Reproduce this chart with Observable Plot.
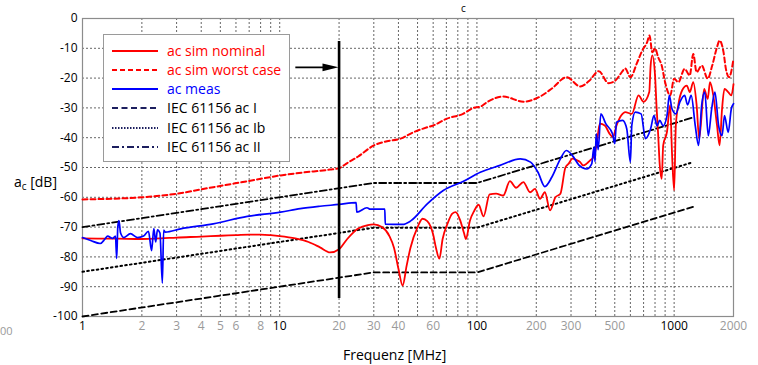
<!DOCTYPE html>
<html>
<head>
<meta charset="utf-8">
<script src="https://cdn.jsdelivr.net/npm/d3@7"></script>
<script src="https://cdn.jsdelivr.net/npm/@observablehq/plot@0.6"></script>
<style>
  html, body { margin: 0; padding: 0; background: #fff; }
  #wrap { position: relative; width: 758px; height: 365px; font-family: "Open Sans", sans-serif; overflow: hidden; }
  #wrap svg { display: block; }
  .abs { position: absolute; white-space: nowrap; }
  #legend { position: absolute; left: 103px; top: 34px; width: 185px; height: 126px; border: 1.5px solid #9a9a9a; background: #fff; }
  .row { position: absolute; left: 0; height: 20px; line-height: 20px; font-size: 14px; }
  .row svg { position: absolute; left: 8px; top: 0; }
  .row span { position: absolute; left: 63px; top: 0; }
</style>
</head>
<body>
<div id="wrap"></div>
<script>
// ---------- data ----------
const nominalF = [1,1.5,2,2.5,3,4,5,6,7,8,9,10,12,14,16,18,20,22,25,28,30,33,36,38,40,42,44,46,50,53,56,60,62,64.5,67,71,75,78,82,86,88,92,97,102,108,116,125,136,147,158,172,186,197,209,221,235,250,265,281,292,305,322,334,346,360,375,390,405,420,445,471,489,510,540,565,610,660,700,748,760,775,800,815,830,845,865,880,920,955,975,1000,1020,1050,1100,1160,1200,1250,1300,1340,1420,1480,1520,1580,1650,1700,1750,1800,1880,1950,2000];
const nominalDb = [-73.8,-73.9,-74,-73.8,-73.5,-73.2,-72.9,-72.7,-72.5,-72.5,-72.7,-73,-73.8,-75,-76.8,-78.5,-77.4,-74,-70.5,-69.3,-69.1,-70,-73,-77,-84,-89.6,-83,-77,-70,-67.2,-68,-72.5,-77,-80.6,-74,-68.8,-65.5,-65,-67.5,-72,-74,-68,-64.5,-62.5,-66.4,-59,-58.8,-59.4,-54.6,-56.8,-54.9,-58.3,-57.2,-60.5,-58.3,-64.4,-60,-58.8,-50,-48.7,-47,-47.6,-48.2,-49.3,-48.7,-47.6,-46.5,-42,-35.3,-35.9,-38.7,-39.8,-36,-32.5,-31.4,-32,-25.8,-28,-24.7,-15.8,-12.4,-19,-30,-39,-49,-53.8,-42.6,-38,-29,-44.9,-57.7,-35.9,-29,-24,-22.5,-24.7,-21.4,-29,-40.3,-23.6,-27,-21.4,-25.8,-35.9,-42.6,-30.3,-23.6,-24.7,-25.8,-22];

const worstF = [1,2,3,4.6,7,10,13,18,20,22,25,30,35,41,47.5,56,60,70.5,85,96,104,113,136,172,209,240,285,334,370,415,465,500,535,565,600,650,690,730,750,775,800,830,865,900,955,1000,1050,1130,1200,1250,1300,1380,1480,1560,1650,1700,1780,1830,1900,2000];
const worstDb = [-60.7,-60,-58.8,-56.6,-54.5,-52.7,-51.7,-50.7,-50.2,-48.5,-46.3,-42.6,-41.2,-40.3,-38.2,-36.5,-35.9,-33.6,-32,-30,-29.6,-28,-26.2,-27.9,-26.2,-23.5,-19.7,-22.8,-21,-17.7,-21.7,-21,-18.6,-16.8,-19.7,-14.7,-10.7,-7.9,-5.7,-11.3,-10,-13,-15.8,-21.4,-25.8,-20.2,-21.4,-16.9,-19.1,-11.9,-18,-15.8,-20.2,-15.8,-9.6,-7.4,-11.3,-16.9,-19.7,-13.5];

const measF = [1,1.1,1.23,1.3,1.34,1.42,1.47,1.49,1.51,1.53,1.56,1.62,1.75,1.9,2.04,2.16,2.24,2.3,2.35,2.4,2.47,2.54,2.58,2.63,3.14,4.6,6.85,10.1,12.7,16,20,24.4,24.6,27.7,28.8,34.1,34.3,42,46,56,67.5,85,104,131,166,187,204,221,240,265,284,305,330,360,382,392,397,403,412,425,450,487,500,510,548,575,600,610,635,680,715,760,790,820,845,880,920,945,975,1020,1070,1130,1170,1220,1280,1330,1380,1430,1490,1550,1610,1680,1750,1800,1880,1950,2000];
const measDb = [-73.5,-74.5,-75.5,-74,-73,-73.8,-73,-80.5,-70,-67.8,-72,-73.5,-72.2,-73.5,-73,-71.4,-77.9,-70.5,-75,-70.9,-72,-88.8,-71,-71.7,-70.6,-68.9,-66.4,-65,-63.8,-63,-62.4,-61.8,-65,-63.5,-64,-64,-69,-69.1,-68,-62.2,-57.7,-54.7,-51.6,-49.3,-47.1,-48.2,-51.6,-56.4,-53.2,-47.1,-44.3,-46,-49.3,-50.5,-48.8,-43.2,-48,-38.7,-44,-32,-35.3,-38.7,-42,-34.8,-34.2,-37,-48.2,-35.9,-31.4,-32,-40.3,-37,-32.6,-36,-34.2,-36,-32.6,-25.8,-30.3,-32,-28,-25.8,-29,-25.8,-36,-42.6,-29,-24.7,-39.3,-30.3,-24.7,-35.9,-39.3,-32.6,-38.2,-30.3,-28.6];

const iecF = [1,30,100,1250];
const iecIDb  = [-100,-85.2,-85.2,-63.2];
const iecIbDb = [-85,-70.2,-70.2,-48.2];
const iecIIDb = [-70,-55.2,-55.2,-33.2];

const gridX = [2,3,4,5,6,7,8,9,10,20,30,40,50,60,70,80,90,100,200,300,400,500,600,700,800,900,1000];
const gridY = [-10,-20,-30,-40,-50,-60,-70,-80,-90];
const yTicks = [0,-10,-20,-30,-40,-50,-60,-70,-80,-90,-100];
const majorTicks = [1,10,100,1000];
const minorTicks = [2,3,4,5,6,8,20,30,40,60,200,300,500,2000];

const markerF = 20, markerTop = -7.7, markerBottom = -94;
const arrowFromF = 12, arrowToF = 17.5, arrowDb = -16.4, arrowHeadF = 18.1;

const legendLabels = ["ac sim nominal","ac sim worst case","ac meas","IEC 61156 ac I","IEC 61156 ac Ib","IEC 61156 ac II"];

// ---------- build ----------
const toRows = (fs, ds) => fs.map((f, i) => ({f, db: ds[i]}));
const nominal = toRows(nominalF, nominalDb);
const worst = toRows(worstF, worstDb);
const meas = toRows(measF, measDb);
const iecI = toRows(iecF, iecIDb);
const iecIb = toRows(iecF, iecIbDb);
const iecII = toRows(iecF, iecIIDb);

const headSymbol = {
  draw(ctx) {
    ctx.moveTo(8, 0);
    ctx.lineTo(-8, -3.8);
    ctx.lineTo(-8, 3.8);
    ctx.closePath();
  }
};

const plot = Plot.plot({
  width: 758,
  height: 365,
  marginLeft: 82,
  marginRight: 25,
  marginTop: 18,
  marginBottom: 49,
  style: {fontFamily: "'Open Sans', sans-serif", fontSize: "12px", background: "white", color: "#000", overflow: "visible"},
  x: {type: "log", domain: [1, 2000], axis: null},
  y: {domain: [-100, 0], ticks: yTicks, tickSize: 0, tickPadding: 5, tickFormat: d => String(d), label: null},
  marks: [
    Plot.ruleX(gridX, {x: d => d, stroke: "#555", strokeWidth: 0.9, strokeDasharray: "2,2"}),
    Plot.ruleY(gridY, {y: d => d, stroke: "#555", strokeWidth: 0.9, strokeDasharray: "2,2"}),
    Plot.frame({stroke: "#8c8c8c", strokeWidth: 1.2}),
    Plot.line(iecI,  {x: "f", y: "db", stroke: "#000", strokeWidth: 1.8, strokeDasharray: "6,3.5"}),
    Plot.line(iecIb, {x: "f", y: "db", stroke: "#000", strokeWidth: 2, strokeDasharray: "1.6,3.2"}),
    Plot.line(iecII, {x: "f", y: "db", stroke: "#000", strokeWidth: 1.8, strokeDasharray: "7,3,2,3"}),
    Plot.line(worst, {x: "f", y: "db", stroke: "#ff0000", strokeWidth: 2, strokeDasharray: "5,3", curve: "monotone-x"}),
    Plot.line(nominal, {x: "f", y: "db", stroke: "#ff0000", strokeWidth: 1.8, curve: "monotone-x"}),
    Plot.line(meas, {x: "f", y: "db", stroke: "#0000ff", strokeWidth: 1.7, curve: "monotone-x"}),
    Plot.ruleX([markerF], {x: d => d, y1: markerTop, y2: markerBottom, stroke: "#000", strokeWidth: 2.6}),
    Plot.link([{x1: arrowFromF, x2: arrowToF, y: arrowDb}], {x1: "x1", x2: "x2", y1: "y", y2: "y", stroke: "#000", strokeWidth: 1.8}),
    Plot.dot([{x: arrowHeadF, y: arrowDb}], {x: "x", y: "y", symbol: headSymbol, fill: "#000", stroke: "none", r: 4}),
    Plot.text(majorTicks, {x: d => d, text: d => String(d), frameAnchor: "bottom", dy: 13, fill: "#000", fontSize: 12}),
    Plot.text(minorTicks, {x: d => d, text: d => String(d), frameAnchor: "bottom", dy: 13, fill: "#9a9a9a", fontSize: 12})
  ]
});

const wrap = document.getElementById("wrap");
wrap.appendChild(plot);

// axis labels and edge fragments
function addText(html, left, top, style) {
  const s = document.createElement("div");
  s.className = "abs";
  s.innerHTML = html;
  s.style.left = left + "px";
  s.style.top = top + "px";
  Object.assign(s.style, style || {});
  wrap.appendChild(s);
  return s;
}
addText("Frequenz [MHz]", 343, 345, {fontSize: "14px", lineHeight: "20px"});
addText("a<sub style='font-size:10px;vertical-align:-3px'>c</sub> [dB]", 14, 172, {fontSize: "14px", lineHeight: "20px"});
addText("c", 461, 1, {fontSize: "10px", lineHeight: "14px"});
addText("00", 0, 321, {fontSize: "11px", lineHeight: "20px", color: "#9a9a9a"});

// legend
const legend = document.createElement("div");
legend.id = "legend";
wrap.appendChild(legend);
const legendStyles = [
  {stroke: "#ff0000", dash: null, w: 2, color: "#ff0000"},
  {stroke: "#ff0000", dash: "5,3", w: 2, color: "#ff0000"},
  {stroke: "#0000ff", dash: null, w: 2, color: "#0000ff"},
  {stroke: "#1c1f5e", dash: "6,3.5", w: 1.8, color: "#000"},
  {stroke: "#1c1f5e", dash: "1.5,1.5", w: 1.8, color: "#000"},
  {stroke: "#1c1f5e", dash: "7,3,2,3", w: 1.8, color: "#000"}
];
const rowCenters = [16, 35, 54, 73, 93, 112];
legendLabels.forEach((label, i) => {
  const st = legendStyles[i];
  const row = document.createElement("div");
  row.className = "row";
  row.style.top = (rowCenters[i] - 10) + "px";
  row.style.width = "185px";
  row.innerHTML = `<svg width="46" height="20"><line x1="0" x2="46" y1="10" y2="10" stroke="${st.stroke}" stroke-width="${st.w}" ${st.dash ? `stroke-dasharray="${st.dash}"` : ""}/></svg><span style="color:${st.color}">${label}</span>`;
  legend.appendChild(row);
});
</script>
</body>
</html>
